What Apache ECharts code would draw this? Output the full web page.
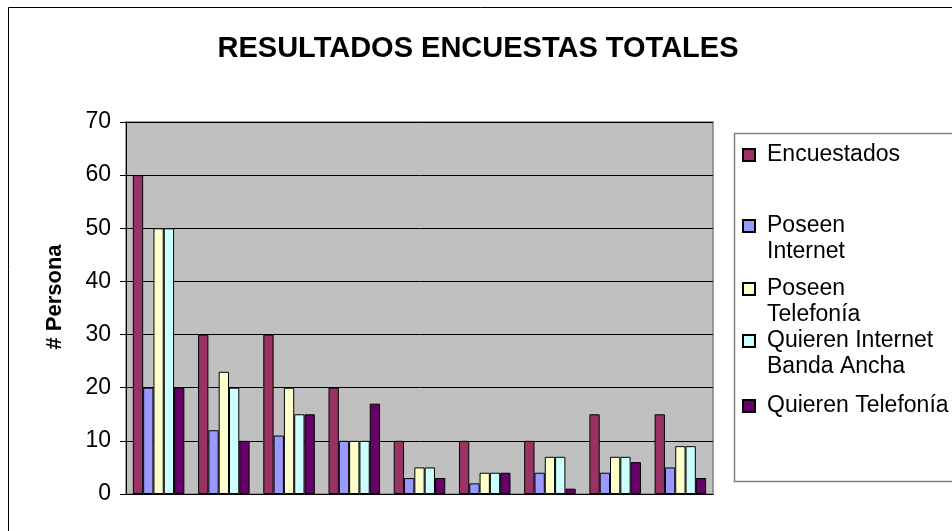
<!DOCTYPE html>
<html><head><meta charset="utf-8">
<script src="https://cdn.jsdelivr.net/npm/echarts@6/dist/echarts.min.js"></script>
<style>html,body{margin:0;padding:0;background:#fff}#c{width:952px;height:531px}</style>
</head><body><div id="c"></div>
<script>
const categories = ['', '', '', '', '', '', '', '', ''];
const encuestados = [60, 30, 30, 20, 10, 10, 10, 15, 15];
const poseenInternet = [20, 12, 11, 10, 3, 2, 4, 4, 5];
const poseenTelefonia = [50, 23, 20, 10, 5, 4, 7, 7, 9];
const quierenInternet = [50, 20, 15, 10, 5, 4, 7, 7, 9];
const quierenTelefonia = [20, 10, 15, 17, 3, 4, 1, 6, 3];
const yTicks = [0, 10, 20, 30, 40, 50, 60, 70];

const seriesDefs = [
  {name: 'Encuestados', data: encuestados, color: '#993366', first: 'Encuestados', second: '', cy: 155},
  {name: 'Poseen Internet', data: poseenInternet, color: '#9999FF', first: 'Poseen', second: 'Internet', cy: 226},
  {name: 'Poseen Telefonía', data: poseenTelefonia, color: '#FFFFCC', first: 'Poseen', second: 'Telefonía', cy: 289},
  {name: 'Quieren Internet Banda Ancha', data: quierenInternet, color: '#CCFFFF', first: 'Quieren Internet', second: 'Banda Ancha', cy: 341},
  {name: 'Quieren Telefonía', data: quierenTelefonia, color: '#660066', first: 'Quieren Telefonía', second: '', cy: 406}
];
const font = 'Liberation Sans, Arial, sans-serif';
const chart = echarts.init(document.getElementById('c'), null, {renderer: 'canvas'});
const legends = seriesDefs.map(s => ({
  data: [s.name], left: 742, top: s.cy - 12, orient: 'vertical',
  icon: 'rect', itemWidth: 12, itemHeight: 12, itemGap: 0, padding: 0,
  formatter: () => s.first,
  textStyle: {fontFamily: font, fontSize: 23, lineHeight: 24, color: '#000', padding: [0, 0, 0, 7]},
  selectedMode: false
}));
const graphics = [
  {type: 'rect', shape: {x: 8.5, y: 7.5, width: 1000, height: 1000}, style: {fill: 'none', stroke: '#000', lineWidth: 1}, z: 0},
  {type: 'rect', shape: {x: 734.5, y: 133.5, width: 300, height: 348}, style: {fill: 'none', stroke: '#808080', lineWidth: 1.5}, z: 0}
];
seriesDefs.forEach(s => {
  if (s.second) graphics.push({type: 'text', left: 767, top: s.cy + 26 - 12,
    style: {text: s.second, font: '23px ' + font, lineHeight: 24, fill: '#000'}});
});
chart.setOption({
  animation: false,
  backgroundColor: '#fff',
  title: {text: 'RESULTADOS ENCUESTAS TOTALES', left: 473, top: 29, textAlign: 'center',
    textStyle: {fontFamily: font, fontSize: 29, fontWeight: 'bold', color: '#000'}},
  legend: legends,
  graphic: graphics,
  grid: {left: 126, right: 239, top: 122, bottom: 37, show: true, backgroundColor: '#C0C0C0', borderColor: '#808080', borderWidth: 1.5, containLabel: false},
  xAxis: {type: 'category', data: categories,
    axisLine: {lineStyle: {color: '#000'}}, axisTick: {show: false}, axisLabel: {show: false}},
  yAxis: {type: 'value', min: 0, max: 70, interval: 10,
    name: '# Persona', nameLocation: 'middle', nameGap: 60, nameRotate: 90,
    nameTextStyle: {fontFamily: font, fontSize: 22, fontWeight: 'bold', color: '#000', padding: [0, 0, 0, 22]},
    axisLine: {show: true, lineStyle: {color: '#000'}},
    axisTick: {show: true, length: 6, lineStyle: {color: '#000'}},
    axisLabel: {fontFamily: font, fontSize: 23, color: '#000', margin: 15,
      formatter: v => yTicks.includes(v) ? String(v) : ''},
    splitLine: {lineStyle: {color: '#000', width: 1}}},
  series: seriesDefs.map(s => ({
    name: s.name, type: 'bar', data: s.data, barGap: '0%', barCategoryGap: '21%',
    itemStyle: {color: s.color, borderColor: '#000', borderWidth: 1}
  }))
});
</script></body></html>
